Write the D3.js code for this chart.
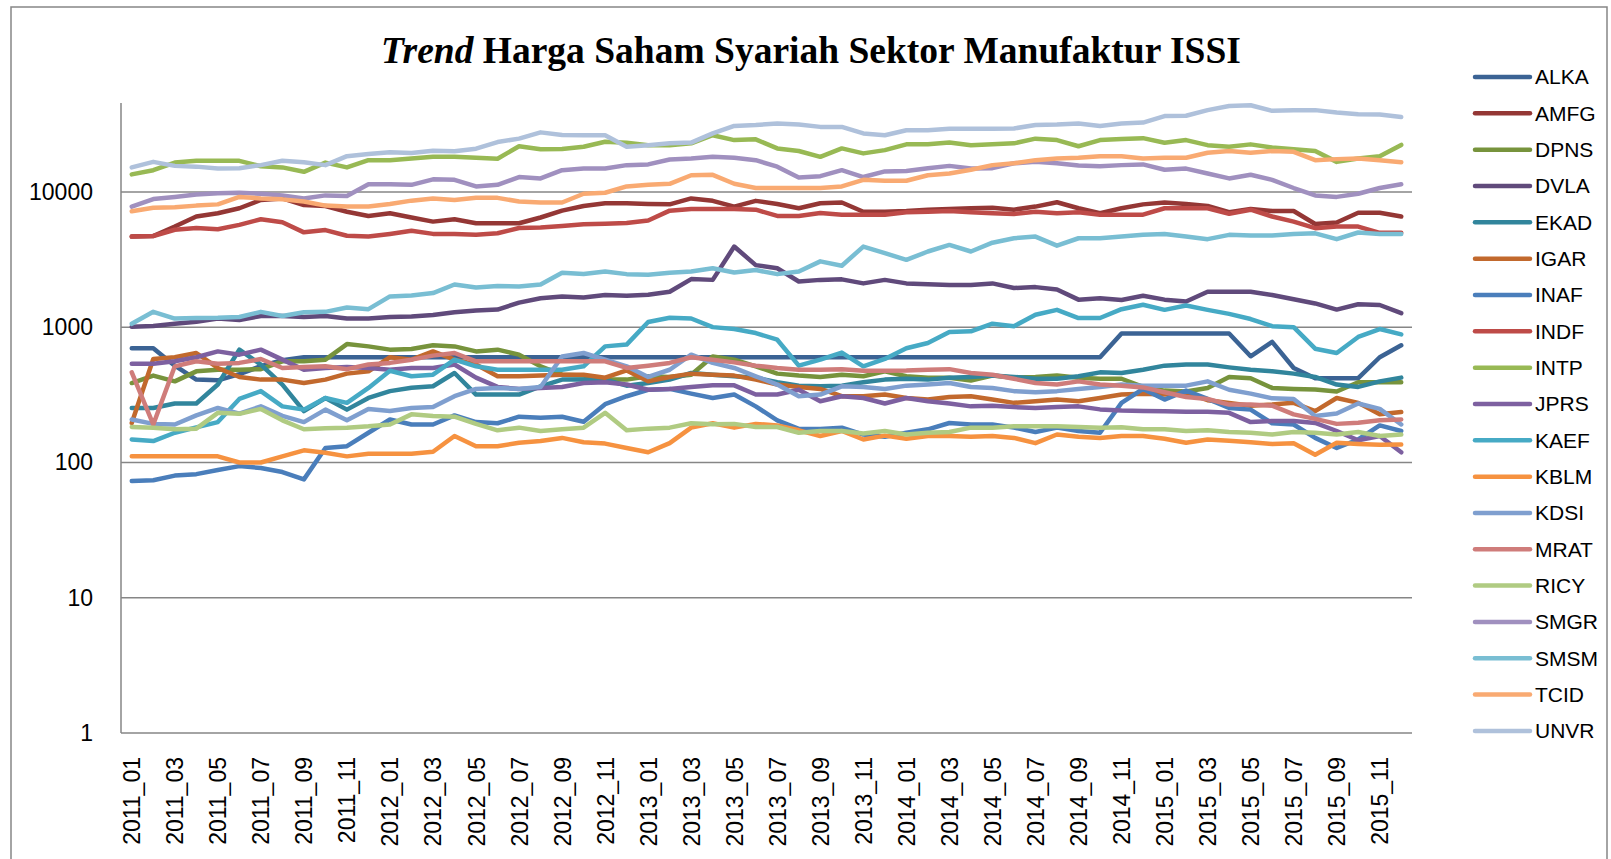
<!DOCTYPE html>
<html>
<head>
<meta charset="utf-8">
<script src="https://cdn.jsdelivr.net/npm/d3@7"></script>
<style>
  body { margin: 0; background: #fff; }
  svg { display: block; }
</style>
</head>
<body>
<svg id="chart" width="1611" height="859"></svg>
<script>
// categories
const years = ["2011", "2012", "2013", "2014", "2015"];
const monthNums = ["01", "02", "03", "04", "05", "06", "07", "08", "09", "10", "11", "12"];
const months = [];
years.forEach(y => monthNums.forEach(m => months.push(y + "_" + m)));

const yTicks = [1, 10, 100, 1000, 10000];

// series values
const ALKA = [700,700,520,410,405,450,515,570,600,600, 600,600,600,600,600,600,600,600,600,600, 600,600,600,600,600,600,600,600,600,600, 600,600,600,600,600,600,600,600,600,600, 600,600,600,600,600,600,900,900,900,900, 900,900,610,780,500,420,420,420,600,735];
const AMFG = [4680,4730,5550,6590,6960,7580,8730,8960,8010,7880, 7150,6650,6960,6480,6040,6290,5870,5870,5870,6480, 7280,7880,8250,8250,8150,8100,8960,8600,7800,8600, 8150,7580,8250,8360,7150,7150,7230,7400,7500,7580, 7650,7400,7800,8400,7580,6960,7580,8100,8360,8150, 7880,7080,7500,7230,7230,5800,5950,7020,7020,6590];
const DPNS = [387,439,398,472,485,485,490,560,560,576, 751,722,683,690,735,722,663,683,627,514, 446,439,410,410,434,429,446,608,576,514, 454,439,429,446,434,472,434,424,424,404, 439,424,429,439,424,416,416,362,340,335, 356,429,420,356,350,346,335,392,392,392];
const DVLA = [1010,1020,1060,1100,1160,1130,1210,1210,1190,1210, 1160,1160,1190,1200,1230,1290,1330,1350,1520,1640, 1690,1660,1730,1710,1740,1830,2270,2240,3950,2880, 2730,2180,2240,2260,2110,2240,2110,2080,2050,2050, 2110,1950,1980,1900,1600,1640,1590,1710,1600,1550, 1830,1830,1830,1730,1610,1500,1350,1480,1460,1270];
const EKAD = [253,253,273,273,377,683,530,377,240,300, 246,300,337,357,366,459,318,318,318,366, 410,410,410,370,387,410,459,446,434,424, 392,370,366,370,392,410,416,410,424,429, 439,429,416,416,434,464,459,485,520,530, 530,505,485,472,454,429,377,362,398,424];
const IGAR = [196,582,600,645,500,429,410,410,387,410, 454,472,600,576,663,576,530,434,434,439, 446,446,424,479,398,429,454,446,439,410, 377,362,350,309,309,318,300,292,305,309, 292,276,284,292,284,300,318,323,318,327, 289,276,263,268,276,240,300,276,227,236];
const INAF = [73,74,80,82,88,94,91,85,75,128, 132,166,208,191,191,223,199,195,218,214, 218,200,270,309,345,350,323,300,318,260, 205,177,177,181,161,155,166,176,196,191, 191,181,168,181,171,166,276,350,292,340, 295,253,246,195,191,152,128,148,188,171];
const INDF = [4680,4730,5260,5420,5300,5710,6290,5980,5030,5230, 4750,4680,4900,5170,4900,4900,4820,4950,5420,5470, 5600,5770,5830,5900,6150,7280,7500,7500,7500,7400, 6650,6650,7000,6800,6800,6800,7080,7150,7230,7080, 6960,6880,7150,6960,7080,6800,6800,6800,7580,7580, 7580,6900,7400,6590,6040,5400,5550,5550,4990,4990];
const INTP = [13500,14500,16500,17000,17000,17000,15500,15200,14100,16500, 15200,17200,17200,17700,18200,18200,17900,17600,21800,20700, 20800,21600,23500,23100,22200,22200,22900,26300,24200,24500, 21000,20100,18200,21000,19300,20400,22500,22500,23200,22200, 22500,22900,24800,24200,21800,24200,24700,25000,23100,24200, 22200,21600,22500,21300,20700,20100,16700,17700,18400,22300];
const JPRS = [537,537,560,600,663,627,683,576,485,500, 509,500,485,500,500,530,424,362,350,356, 362,387,392,377,345,350,362,372,372,318, 318,345,284,309,300,273,300,284,273,260, 263,257,253,257,260,247,242,240,239,237, 237,233,199,203,203,196,171,146,157,119];
const KAEF = [148,144,166,182,199,295,337,260,246,300, 276,356,477,434,446,576,514,485,485,485, 485,514,722,744,1093,1175,1160,1002,970,906, 809,520,576,650,514,583,700,765,922,933, 1062,1018,1237,1345,1170,1170,1360,1466,1345,1450, 1345,1255,1150,1018,1002,694,645,848,970,885];
const KBLM = [111,111,111,111,111,100,100,111,123,118, 111,116,116,116,120,157,132,132,140,144, 152,141,138,128,119,139,181,195,181,193, 188,173,157,171,148,158,150,157,157,155, 157,152,139,161,155,152,157,157,150,140, 148,145,141,137,139,114,140,137,135,136];
const KDSI = [208,193,191,223,253,230,260,221,199,246, 205,249,240,253,257,309,350,356,350,362, 608,645,576,514,429,485,627,545,500,434, 377,309,318,366,362,350,370,377,387,362, 356,337,331,337,350,362,377,370,370,370, 398,345,323,298,295,221,230,273,249,191];
const MRAT = [464,191,514,560,537,545,582,500,509,514, 490,530,545,576,617,645,560,560,560,560, 560,560,560,500,520,545,600,576,550,520, 500,485,485,490,477,477,479,485,490,459, 446,416,387,377,398,377,370,359,331,305, 295,268,268,263,227,210,193,197,205,208];
const RICY = [183,181,176,178,233,229,249,205,176,179, 181,185,191,227,221,218,193,173,181,171, 176,181,233,173,178,181,195,192,193,183, 183,166,171,171,164,171,161,166,168,181, 181,185,185,185,183,181,182,176,176,171, 173,168,166,161,168,166,161,168,157,161];
const SMGR = [7800,8870,9200,9600,9800,9870,9700,9440,8960,9440, 9330,11400,11400,11300,12400,12300,11000,11300,12900,12600, 14500,14900,14900,15800,16000,17400,17700,18200,17900,17200, 15400,12800,13100,14500,12900,14200,14300,15000,15600,14900, 15000,16300,16700,16300,15700,15500,15800,16000,14600,14900, 13700,12600,13400,12300,10700,9440,9200,9700,10700,11400];
const SMSM = [1060,1300,1160,1170,1175,1190,1300,1210,1290,1300, 1400,1360,1690,1720,1790,2070,1970,2020,2000,2070, 2530,2480,2580,2470,2440,2530,2580,2730,2540,2650, 2470,2580,3070,2850,3950,3530,3150,3630,4060,3630, 4220,4550,4680,4010,4550,4550,4680,4820,4900,4680, 4480,4820,4760,4760,4900,4950,4480,5020,4900,4900];
const TCID = [7200,7650,7700,7930,8100,9200,8960,8820,8500,7930, 7800,7800,8150,8630,8960,8730,9050,9050,8500,8360, 8360,9700,9870,11000,11300,11500,13300,13400,11500,10700, 10700,10700,10700,11000,12300,12100,12100,13300,13700,14600, 15800,16300,17200,17700,17900,18400,18400,17700,17900,17900, 19500,20100,19500,20100,19800,17200,17500,17700,17200,16600];
const UNVR = [15200,16700,15600,15400,14900,15000,15800,17000,16600,15800, 18400,19100,19700,19400,20200,20000,20900,23400,24800,27600, 26400,26300,26300,21600,22200,22900,23200,27100,30800,31300, 32100,31500,30300,30300,27100,26300,28600,28600,29300,29300, 29300,29500,31300,31500,32100,30800,32100,32600,36400,36600, 40300,43200,43800,39800,40300,40300,38700,37600,37400,35800];

const seriesNames = ["ALKA","AMFG","DPNS","DVLA","EKAD","IGAR","INAF","INDF","INTP","JPRS","KAEF","KBLM","KDSI","MRAT","RICY","SMGR","SMSM","TCID","UNVR"];
const seriesValues = [ALKA,AMFG,DPNS,DVLA,EKAD,IGAR,INAF,INDF,INTP,JPRS,KAEF,KBLM,KDSI,MRAT,RICY,SMGR,SMSM,TCID,UNVR];
const seriesColors = ["#3b6394","#943735","#77933c","#604a7b","#31859c","#c2692d",
                      "#4a7ebb","#be4b48","#98b954","#7d60a0","#46aac5","#f69240",
                      "#7f9fcf","#cf7c7a","#b0cb82","#a090bf","#79bed3","#f9aa72","#afc1db"];

const svg = d3.select("#chart");
const axisColor = "#868686";
const font = "'Liberation Sans', Arial, sans-serif";

// outer chart frame
svg.append("rect")
  .attr("x", 11).attr("y", 7)
  .attr("width", 1596).attr("height", 870)
  .attr("fill", "none")
  .attr("stroke", axisColor)
  .attr("stroke-width", 1.5);

// title: "Trend" in italics, rest bold
const title = svg.append("text")
  .attr("x", 811).attr("y", 63)
  .attr("text-anchor", "middle")
  .attr("font-family", "'Liberation Serif', 'Times New Roman', serif")
  .attr("font-weight", "bold")
  .attr("font-size", 37.5)
  .attr("fill", "#000");
title.append("tspan").attr("font-style", "italic").text("Trend");
title.append("tspan").text(" Harga Saham Syariah Sektor Manufaktur ISSI");

// plot area
const plot = { left: 121, right: 1412, top: 103, bottom: 733 };

const x = d3.scalePoint()
  .domain(months)
  .range([plot.left, plot.right])
  .padding(0.5);

const y = d3.scaleLog()
  .domain([1, 45500])
  .range([plot.bottom, plot.top]);

// gridlines
svg.append("g")
  .selectAll("line")
  .data(yTicks.slice(1))
  .join("line")
  .attr("x1", plot.left).attr("x2", plot.right)
  .attr("y1", d => y(d)).attr("y2", d => y(d))
  .attr("stroke", axisColor)
  .attr("stroke-width", 1.5);

// y axis
const yAxis = svg.append("g")
  .attr("transform", `translate(${plot.left},0)`)
  .call(d3.axisLeft(y).tickValues(yTicks).tickFormat(d3.format("d")).tickSize(0).tickPadding(28));
yAxis.select(".domain").attr("stroke", axisColor).attr("stroke-width", 1.5).attr("d", `M0,${plot.top}V${plot.bottom}`);
yAxis.selectAll("text")
  .attr("font-family", font)
  .attr("font-size", 23)
  .attr("fill", "#000");

// x axis
const xAxis = svg.append("g")
  .attr("transform", `translate(0,${plot.bottom})`)
  .call(d3.axisBottom(x).tickValues(months.filter((d, i) => i % 2 === 0)).tickSize(0));
xAxis.select(".domain").attr("stroke", axisColor).attr("stroke-width", 1.5).attr("d", `M${plot.left},0H${plot.right}`);
xAxis.selectAll("text")
  .attr("font-family", font)
  .attr("font-size", 23)
  .attr("fill", "#000")
  .attr("text-anchor", "end")
  .attr("dy", null)
  .attr("y", 0)
  .attr("transform", "translate(8,24) rotate(-90)");

// series lines
const line = d3.line()
  .x((d, i) => x(months[i]))
  .y(d => y(d));

svg.append("g")
  .selectAll("path")
  .data(seriesValues)
  .join("path")
  .attr("d", d => line(d))
  .attr("fill", "none")
  .attr("stroke", (d, i) => seriesColors[i])
  .attr("stroke-width", 4.5)
  .attr("stroke-linejoin", "round")
  .attr("stroke-linecap", "round");

// legend
const legend = svg.append("g")
  .selectAll("g")
  .data(seriesNames)
  .join("g")
  .attr("transform", (d, i) => `translate(1475,${77 + i * 36.33})`);

legend.append("line")
  .attr("x1", 0).attr("x2", 55)
  .attr("stroke", (d, i) => seriesColors[i])
  .attr("stroke-width", 4.5)
  .attr("stroke-linecap", "round");

legend.append("text")
  .attr("x", 60)
  .attr("dy", "0.35em")
  .attr("font-family", font)
  .attr("font-size", 21)
  .attr("fill", "#000")
  .text(d => d);
</script>
</body>
</html>
